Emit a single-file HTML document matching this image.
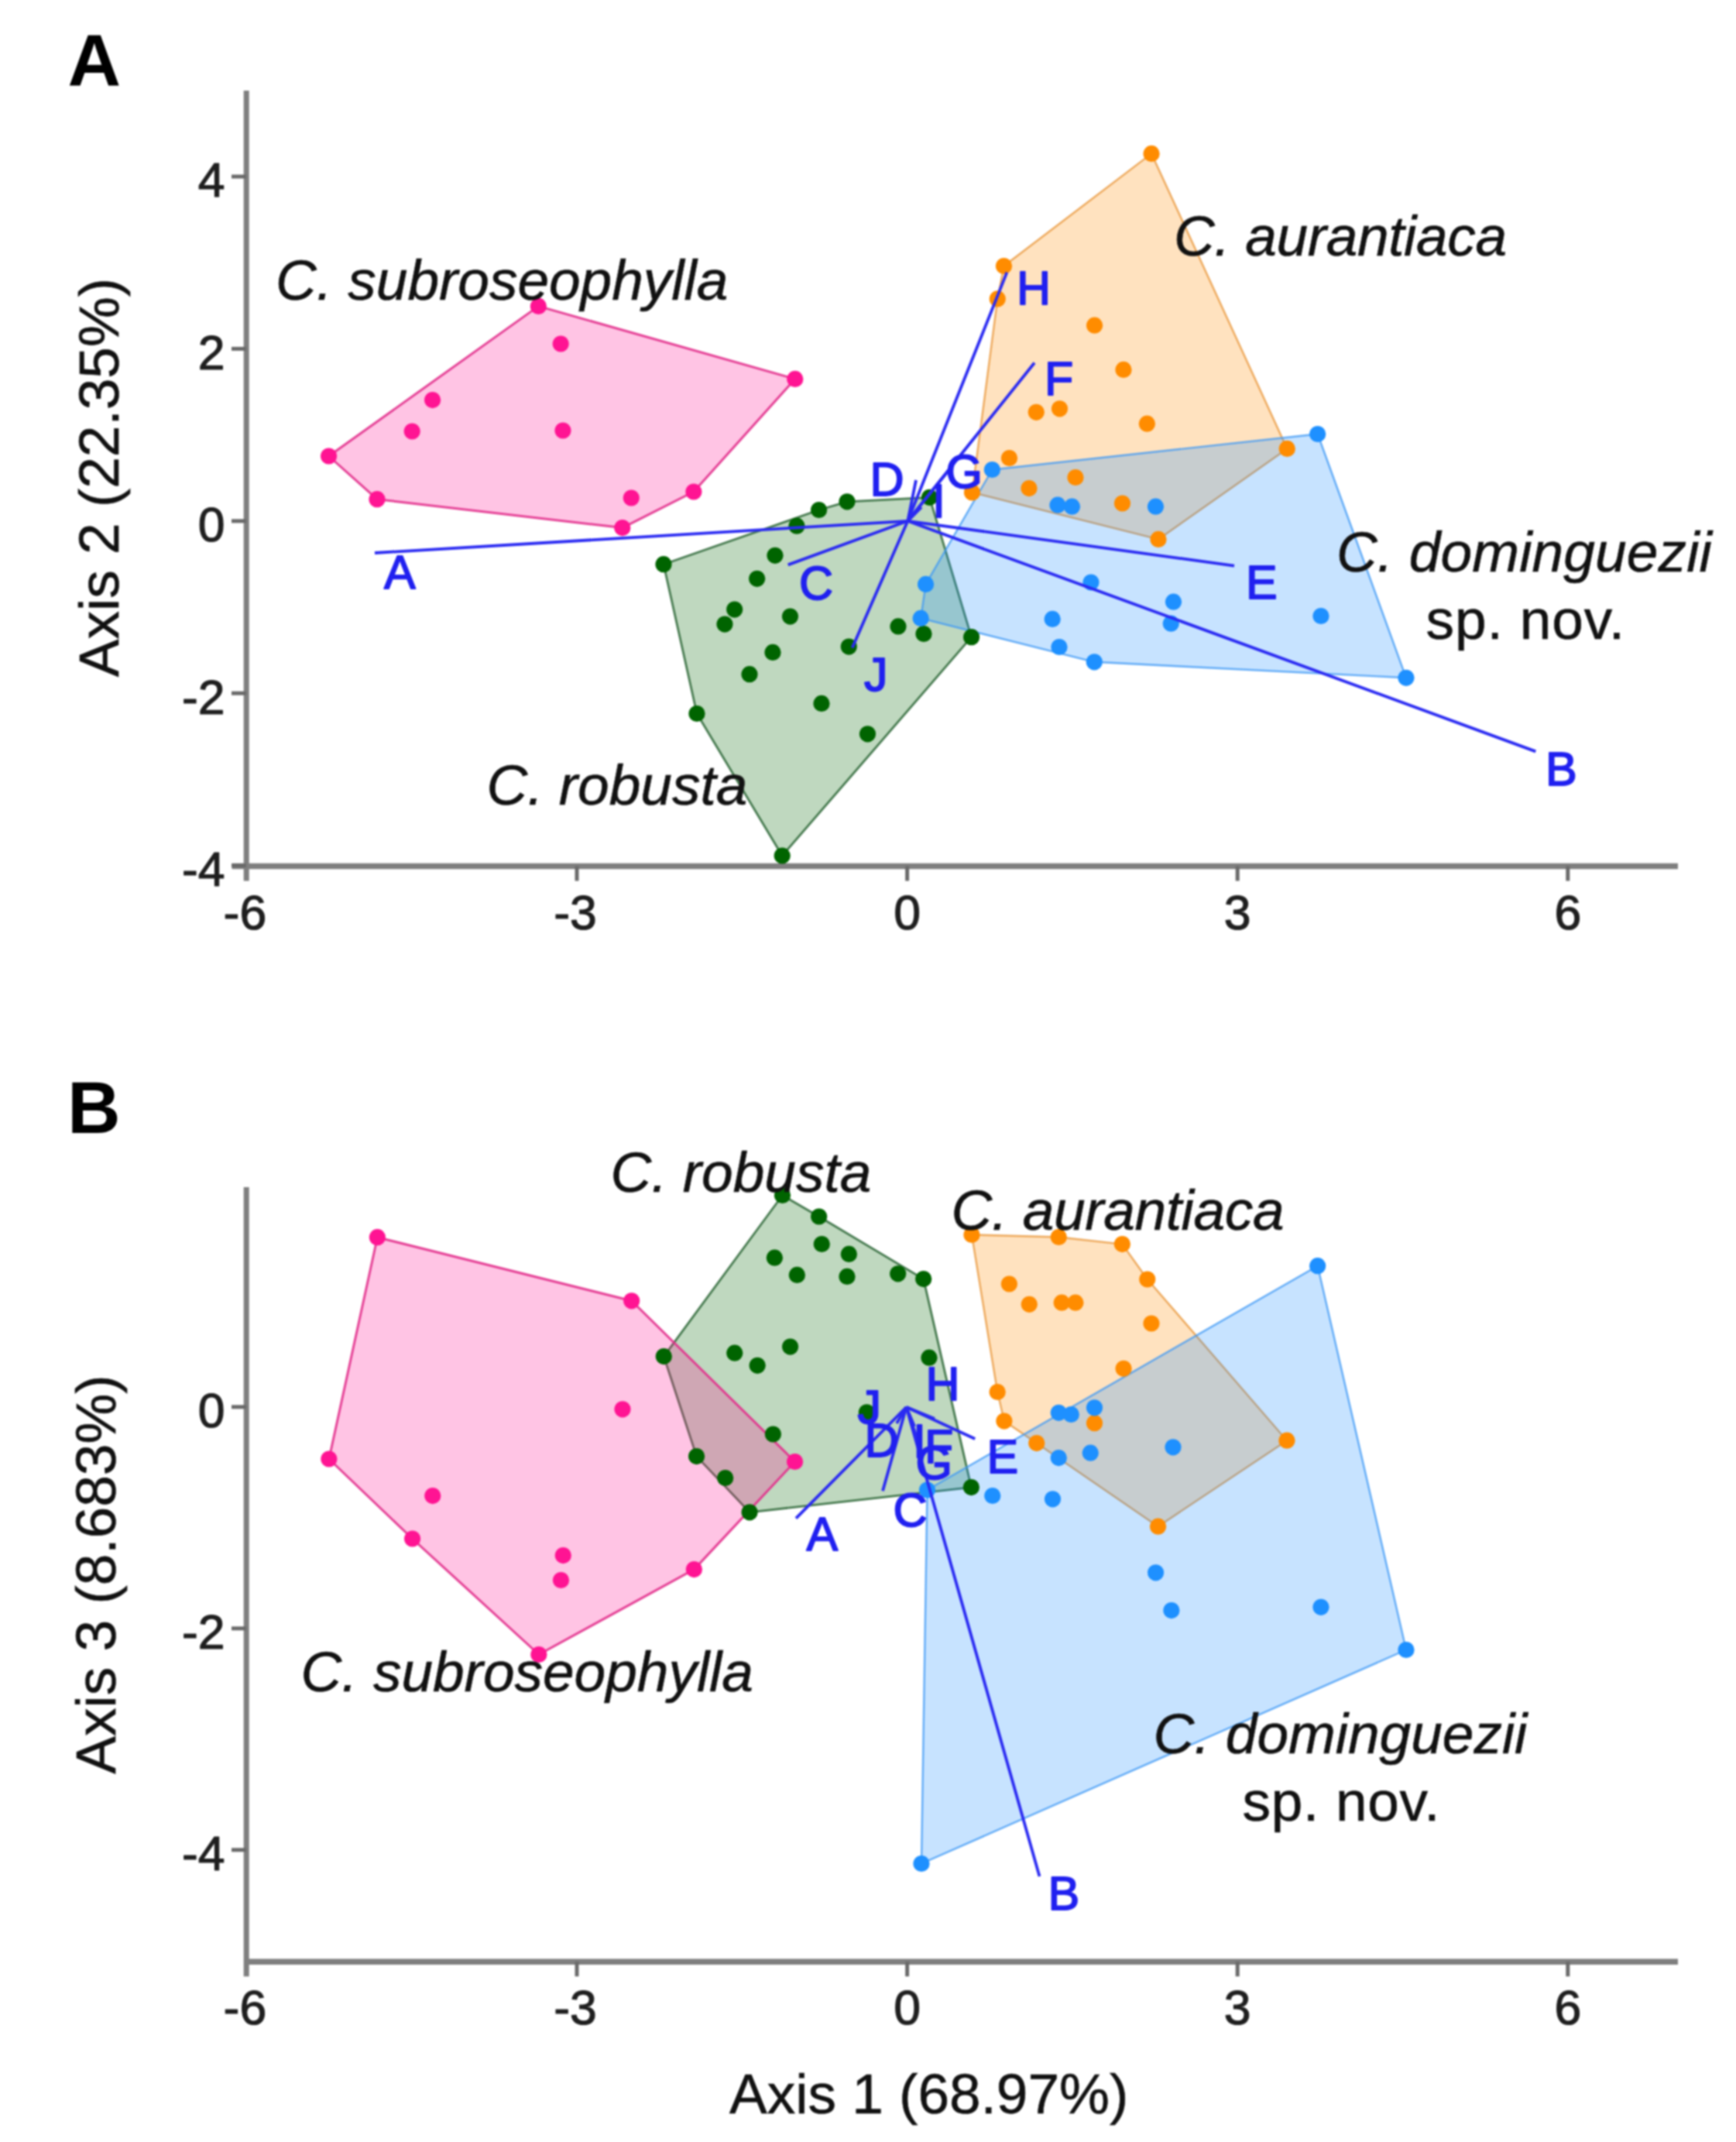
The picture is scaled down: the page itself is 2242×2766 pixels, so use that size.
<!DOCTYPE html>
<html><head><meta charset="utf-8"><title>PCA biplot</title>
<style>
html,body{margin:0;padding:0;background:#fff}
svg{display:block;filter:blur(1.3px)}
text{font-family:"Liberation Sans",sans-serif}
.tk text{font-size:62.5px;fill:#1f1f1f;stroke:#1f1f1f;stroke-width:1.2px;stroke-linejoin:round}
.sp{font-size:73px;fill:#111;font-style:italic;stroke:#111;stroke-width:.6px}
.rg{font-size:73px;fill:#111;stroke:#111;stroke-width:.6px}
.pl{font-size:95px;font-weight:bold;fill:#000}
.bl text{font-size:61px;fill:#2020f0;stroke:#2020f0;stroke-width:1.8px;stroke-linejoin:round}
.ln line{stroke:#2a2af2;stroke-width:3.8;stroke-linecap:butt}
</style></head><body>
<svg width="2242" height="2766" viewBox="0 0 2242 2766">
<rect width="2242" height="2766" fill="#fff"/>
<!-- Panel A -->
<line x1="318.2" y1="117.0" x2="318.2" y2="1137.5" stroke="#7f7f7f" stroke-width="7"/>
<line x1="299.5" y1="1118.5" x2="2167" y2="1118.5" stroke="#7f7f7f" stroke-width="7.4"/>
<line x1="745.0" y1="1118.5" x2="745.0" y2="1137.5" stroke="#6a6a6a" stroke-width="5"/>
<line x1="1171.6" y1="1118.5" x2="1171.6" y2="1137.5" stroke="#6a6a6a" stroke-width="5"/>
<line x1="1598.2" y1="1118.5" x2="1598.2" y2="1137.5" stroke="#6a6a6a" stroke-width="5"/>
<line x1="2024.8" y1="1118.5" x2="2024.8" y2="1137.5" stroke="#6a6a6a" stroke-width="5"/>
<line x1="299" y1="228.0" x2="318" y2="228.0" stroke="#6a6a6a" stroke-width="5"/>
<line x1="299" y1="450.4" x2="318" y2="450.4" stroke="#6a6a6a" stroke-width="5"/>
<line x1="299" y1="672.8" x2="318" y2="672.8" stroke="#6a6a6a" stroke-width="5"/>
<line x1="299" y1="895.2" x2="318" y2="895.2" stroke="#6a6a6a" stroke-width="5"/>
<line x1="299" y1="1117.6" x2="318" y2="1117.6" stroke="#6a6a6a" stroke-width="5"/>
<g class="tk" text-anchor="middle"><text x="316.4" y="1199.5">-6</text><text x="743.0" y="1199.5">-3</text><text x="1171.6" y="1199.5">0</text><text x="1598.2" y="1199.5">3</text><text x="2024.8" y="1199.5">6</text></g>
<g class="tk" text-anchor="end"><text x="290.5" y="254.3">4</text><text x="290.5" y="476.7">2</text><text x="290.5" y="699.1">0</text><text x="290.5" y="921.5">-2</text><text x="290.5" y="1143.9">-4</text></g>
<polygon points="857.0,728.7 1057.6,658.5 1094.0,647.8 1200.5,642.3 1254.6,822.7 1010.2,1105.0 900.0,921.5" fill="#006400" fill-opacity="0.25" stroke="#2c6636" stroke-opacity="0.85" stroke-width="2.8" stroke-linejoin="round"/>
<polygon points="424.6,589.0 695.4,395.4 1026.8,489.4 895.9,635.0 803.8,681.6 487.0,644.7" fill="#ff1493" fill-opacity="0.25" stroke="#e2308c" stroke-opacity="0.90" stroke-width="3.0" stroke-linejoin="round"/>
<polygon points="1255.5,635.9 1288.3,385.9 1296.5,343.5 1487.1,198.4 1662.3,579.4 1496.0,696.4" fill="#ff8c00" fill-opacity="0.25" stroke="#e8963a" stroke-opacity="0.80" stroke-width="2.4" stroke-linejoin="round"/>
<polygon points="1281.4,606.5 1701.7,560.5 1816.0,875.3 1413.3,854.8 1189.2,798.4 1195.6,754.4" fill="#1e90ff" fill-opacity="0.25" stroke="#3f98f5" stroke-opacity="0.80" stroke-width="2.4" stroke-linejoin="round"/>
<g fill="#ff1493"><circle cx="695.4" cy="395.4" r="10.6"/><circle cx="724.2" cy="444.0" r="10.6"/><circle cx="1026.8" cy="489.4" r="10.6"/><circle cx="558.6" cy="516.6" r="10.6"/><circle cx="532.2" cy="557.0" r="10.6"/><circle cx="727.0" cy="556.0" r="10.6"/><circle cx="424.6" cy="589.0" r="10.6"/><circle cx="487.0" cy="644.7" r="10.6"/><circle cx="815.3" cy="643.0" r="10.6"/><circle cx="895.9" cy="635.0" r="10.6"/><circle cx="803.8" cy="681.6" r="10.6"/></g>
<g fill="#006400"><circle cx="857.0" cy="728.7" r="10.6"/><circle cx="900.0" cy="921.5" r="10.6"/><circle cx="1010.2" cy="1105.0" r="10.6"/><circle cx="1254.6" cy="822.7" r="10.6"/><circle cx="1200.5" cy="642.3" r="10.6"/><circle cx="1094.0" cy="647.8" r="10.6"/><circle cx="1057.6" cy="658.5" r="10.6"/><circle cx="1029.0" cy="679.2" r="10.6"/><circle cx="1001.0" cy="717.3" r="10.6"/><circle cx="977.7" cy="747.3" r="10.6"/><circle cx="948.7" cy="787.1" r="10.6"/><circle cx="936.0" cy="806.1" r="10.6"/><circle cx="1020.5" cy="796.1" r="10.6"/><circle cx="998.0" cy="842.4" r="10.6"/><circle cx="968.0" cy="870.7" r="10.6"/><circle cx="1096.3" cy="835.1" r="10.6"/><circle cx="1160.0" cy="808.9" r="10.6"/><circle cx="1193.0" cy="818.5" r="10.6"/><circle cx="1061.0" cy="908.4" r="10.6"/><circle cx="1120.5" cy="947.8" r="10.6"/></g>
<g fill="#ff8c00"><circle cx="1487.1" cy="198.4" r="10.6"/><circle cx="1296.5" cy="343.5" r="10.6"/><circle cx="1288.3" cy="385.9" r="10.6"/><circle cx="1413.6" cy="420.2" r="10.6"/><circle cx="1451.0" cy="477.4" r="10.6"/><circle cx="1338.3" cy="532.3" r="10.6"/><circle cx="1368.5" cy="527.8" r="10.6"/><circle cx="1481.4" cy="547.2" r="10.6"/><circle cx="1303.5" cy="591.5" r="10.6"/><circle cx="1662.3" cy="579.4" r="10.6"/><circle cx="1255.5" cy="635.9" r="10.6"/><circle cx="1329.0" cy="630.6" r="10.6"/><circle cx="1389.0" cy="616.5" r="10.6"/><circle cx="1449.5" cy="650.0" r="10.6"/><circle cx="1496.0" cy="696.4" r="10.6"/></g>
<g fill="#1e90ff"><circle cx="1701.7" cy="560.5" r="10.6"/><circle cx="1281.4" cy="606.5" r="10.6"/><circle cx="1366.0" cy="652.2" r="10.6"/><circle cx="1384.5" cy="654.2" r="10.6"/><circle cx="1492.5" cy="654.2" r="10.6"/><circle cx="1195.6" cy="754.4" r="10.6"/><circle cx="1189.2" cy="798.4" r="10.6"/><circle cx="1409.0" cy="752.0" r="10.6"/><circle cx="1515.5" cy="777.2" r="10.6"/><circle cx="1512.3" cy="805.2" r="10.6"/><circle cx="1359.2" cy="799.4" r="10.6"/><circle cx="1368.0" cy="835.5" r="10.6"/><circle cx="1413.3" cy="854.8" r="10.6"/><circle cx="1706.0" cy="795.5" r="10.6"/><circle cx="1816.0" cy="875.3" r="10.6"/></g>
<g class="ln"><line x1="1172.3" y1="672.8" x2="484.0" y2="714.0"/><line x1="1172.3" y1="672.8" x2="1983.3" y2="970.4"/><line x1="1172.3" y1="672.8" x2="1017.7" y2="729.4"/><line x1="1172.3" y1="672.8" x2="1183.0" y2="620.0"/><line x1="1172.3" y1="672.8" x2="1594.0" y2="730.6"/><line x1="1172.3" y1="672.8" x2="1336.0" y2="468.5"/><line x1="1172.3" y1="672.8" x2="1228.0" y2="604.0"/><line x1="1172.3" y1="672.8" x2="1300.4" y2="351.6"/><line x1="1172.3" y1="672.8" x2="1190.0" y2="655.0"/><line x1="1172.3" y1="672.8" x2="1100.7" y2="836.5"/></g>
<g class="bl"><text x="496.0" y="760.0">A</text><text x="1996.0" y="1014.4">B</text><text x="1032.0" y="774.0">C</text><text x="1123.5" y="640.0">D</text><text x="1609.0" y="773.0">E</text><text x="1349.0" y="510.0">F</text><text x="1221.5" y="630.0">G</text><text x="1313.0" y="393.0">H</text><text x="1204.0" y="668.0">I</text><text x="1116.0" y="892.0">J</text></g>
<text class="sp" x="356" y="387.3">C. subroseophylla</text>
<text class="sp" x="1516" y="330.4" letter-spacing="-0.35">C. aurantiaca</text>
<text class="sp" x="1726" y="738.3" letter-spacing="0.15">C. dominguezii</text>
<text class="rg" x="1841.5" y="824.7" letter-spacing="0.9">sp. nov.</text>
<text class="sp" x="628.5" y="1038.6">C. robusta</text>
<text class="rg" text-anchor="middle" transform="translate(153,616.5) rotate(-90)">Axis 2 (22.35%)</text>
<text class="pl" x="87.5" y="111">A</text>
<!-- Panel B -->
<line x1="318.2" y1="1533.0" x2="318.2" y2="2552.2" stroke="#7f7f7f" stroke-width="7"/>
<line x1="316.0" y1="2533.2" x2="2167" y2="2533.2" stroke="#7f7f7f" stroke-width="7.4"/>
<line x1="745.0" y1="2533.2" x2="745.0" y2="2552.2" stroke="#6a6a6a" stroke-width="5"/>
<line x1="1171.6" y1="2533.2" x2="1171.6" y2="2552.2" stroke="#6a6a6a" stroke-width="5"/>
<line x1="1598.2" y1="2533.2" x2="1598.2" y2="2552.2" stroke="#6a6a6a" stroke-width="5"/>
<line x1="2024.8" y1="2533.2" x2="2024.8" y2="2552.2" stroke="#6a6a6a" stroke-width="5"/>
<line x1="299" y1="1816.8" x2="318" y2="1816.8" stroke="#6a6a6a" stroke-width="5"/>
<line x1="299" y1="2102.8" x2="318" y2="2102.8" stroke="#6a6a6a" stroke-width="5"/>
<line x1="299" y1="2388.8" x2="318" y2="2388.8" stroke="#6a6a6a" stroke-width="5"/>
<g class="tk" text-anchor="middle"><text x="316.4" y="2614.2">-6</text><text x="743.0" y="2614.2">-3</text><text x="1171.6" y="2614.2">0</text><text x="1598.2" y="2614.2">3</text><text x="2024.8" y="2614.2">6</text></g>
<g class="tk" text-anchor="end"><text x="290.5" y="1843.1">0</text><text x="290.5" y="2129.1">-2</text><text x="290.5" y="2415.1">-4</text></g>
<polygon points="857.3,1751.6 1010.5,1543.5 1057.7,1571.0 1192.7,1651.6 1254.4,1920.6 968.1,1952.8 899.6,1880.6" fill="#006400" fill-opacity="0.25" stroke="#2c6636" stroke-opacity="0.85" stroke-width="2.8" stroke-linejoin="round"/>
<polygon points="424.9,1884.0 487.4,1597.7 815.7,1679.8 1026.6,1887.5 896.4,2026.6 695.9,2136.5 532.6,1987.0" fill="#ff1493" fill-opacity="0.25" stroke="#e2308c" stroke-opacity="0.90" stroke-width="3.0" stroke-linejoin="round"/>
<polygon points="1255.0,1594.5 1367.3,1597.5 1449.4,1606.6 1481.8,1652.0 1662.0,1860.2 1495.6,1971.2 1338.8,1863.6 1296.9,1835.1 1288.2,1797.5" fill="#ff8c00" fill-opacity="0.25" stroke="#e8963a" stroke-opacity="0.80" stroke-width="2.4" stroke-linejoin="round"/>
<polygon points="1197.5,1924.0 1701.7,1634.7 1816.0,2130.5 1190.0,2406.5" fill="#1e90ff" fill-opacity="0.25" stroke="#3f98f5" stroke-opacity="0.80" stroke-width="2.4" stroke-linejoin="round"/>
<g fill="#ff1493"><circle cx="487.4" cy="1597.7" r="10.6"/><circle cx="424.9" cy="1884.0" r="10.6"/><circle cx="558.8" cy="1931.6" r="10.6"/><circle cx="532.6" cy="1987.0" r="10.6"/><circle cx="727.3" cy="2008.6" r="10.6"/><circle cx="724.5" cy="2040.5" r="10.6"/><circle cx="695.9" cy="2136.5" r="10.6"/><circle cx="815.7" cy="1679.8" r="10.6"/><circle cx="804.0" cy="1819.8" r="10.6"/><circle cx="1026.6" cy="1887.5" r="10.6"/><circle cx="896.4" cy="2026.6" r="10.6"/></g>
<g fill="#006400"><circle cx="1010.5" cy="1543.5" r="10.6"/><circle cx="1057.7" cy="1571.0" r="10.6"/><circle cx="1061.3" cy="1606.5" r="10.6"/><circle cx="1096.4" cy="1619.4" r="10.6"/><circle cx="1000.4" cy="1624.2" r="10.6"/><circle cx="1029.4" cy="1646.4" r="10.6"/><circle cx="1094.0" cy="1648.4" r="10.6"/><circle cx="1159.7" cy="1644.8" r="10.6"/><circle cx="1192.7" cy="1651.6" r="10.6"/><circle cx="857.3" cy="1751.6" r="10.6"/><circle cx="948.8" cy="1747.2" r="10.6"/><circle cx="978.2" cy="1763.3" r="10.6"/><circle cx="1020.6" cy="1739.1" r="10.6"/><circle cx="1200.0" cy="1753.2" r="10.6"/><circle cx="1119.4" cy="1823.8" r="10.6"/><circle cx="998.4" cy="1852.0" r="10.6"/><circle cx="899.6" cy="1880.6" r="10.6"/><circle cx="936.7" cy="1908.5" r="10.6"/><circle cx="968.1" cy="1952.8" r="10.6"/><circle cx="1254.4" cy="1920.6" r="10.6"/></g>
<g fill="#ff8c00"><circle cx="1255.0" cy="1594.5" r="10.6"/><circle cx="1367.3" cy="1597.5" r="10.6"/><circle cx="1449.4" cy="1606.6" r="10.6"/><circle cx="1481.8" cy="1652.0" r="10.6"/><circle cx="1303.4" cy="1658.0" r="10.6"/><circle cx="1329.3" cy="1684.3" r="10.6"/><circle cx="1371.2" cy="1682.2" r="10.6"/><circle cx="1388.9" cy="1682.2" r="10.6"/><circle cx="1487.0" cy="1709.0" r="10.6"/><circle cx="1451.1" cy="1767.3" r="10.6"/><circle cx="1288.2" cy="1797.5" r="10.6"/><circle cx="1296.9" cy="1835.1" r="10.6"/><circle cx="1413.5" cy="1837.7" r="10.6"/><circle cx="1338.8" cy="1863.6" r="10.6"/><circle cx="1662.0" cy="1860.2" r="10.6"/><circle cx="1495.6" cy="1971.2" r="10.6"/></g>
<g fill="#1e90ff"><circle cx="1701.7" cy="1634.7" r="10.6"/><circle cx="1367.3" cy="1824.3" r="10.6"/><circle cx="1383.3" cy="1826.5" r="10.6"/><circle cx="1413.5" cy="1817.8" r="10.6"/><circle cx="1367.3" cy="1882.6" r="10.6"/><circle cx="1408.3" cy="1876.2" r="10.6"/><circle cx="1515.0" cy="1868.8" r="10.6"/><circle cx="1281.8" cy="1931.5" r="10.6"/><circle cx="1359.5" cy="1935.8" r="10.6"/><circle cx="1492.6" cy="2030.8" r="10.6"/><circle cx="1512.9" cy="2079.6" r="10.6"/><circle cx="1706.0" cy="2075.3" r="10.6"/><circle cx="1816.0" cy="2130.5" r="10.6"/><circle cx="1190.0" cy="2406.5" r="10.6"/><circle cx="1197.5" cy="1924.0" r="10.6"/></g>
<g class="ln"><line x1="1170.5" y1="1817.0" x2="1028.0" y2="1960.6"/><line x1="1170.5" y1="1817.0" x2="1342.5" y2="2423.0"/><line x1="1170.5" y1="1817.0" x2="1140.0" y2="1925.3"/><line x1="1170.5" y1="1817.0" x2="1158.0" y2="1838.0"/><line x1="1170.5" y1="1817.0" x2="1259.2" y2="1857.9"/><line x1="1170.5" y1="1817.0" x2="1207.0" y2="1832.0"/><line x1="1170.5" y1="1817.0" x2="1186.0" y2="1862.0"/><line x1="1170.5" y1="1817.0" x2="1181.0" y2="1842.0"/></g>
<g class="bl"><text x="1041.5" y="2002.0">A</text><text x="1353.5" y="2466.4">B</text><text x="1153.5" y="1971.0">C</text><text x="1116.5" y="1881.0">D</text><text x="1274.5" y="1901.5">E</text><text x="1194.0" y="1889.0">F</text><text x="1182.5" y="1910.0">G</text><text x="1195.5" y="1808.0">H</text><text x="1179.0" y="1881.5">I</text><text x="1107.5" y="1838.0">J</text></g>
<text class="sp" x="788.5" y="1538.8">C. robusta</text>
<text class="sp" x="1228.5" y="1587.9" letter-spacing="-0.35">C. aurantiaca</text>
<text class="sp" x="388.6" y="2183.8">C. subroseophylla</text>
<text class="sp" x="1489.5" y="2263.7">C. dominguezii</text>
<text class="rg" x="1604.5" y="2351.3" letter-spacing="0.7">sp. nov.</text>
<text class="rg" text-anchor="middle" transform="translate(149.3,2033) rotate(-90)">Axis 3 (8.683%)</text>
<text class="rg" x="942" y="2729.4">Axis 1 (68.97%)</text>
<text class="pl" x="87" y="1462.7">B</text>
</svg>
</body></html>
